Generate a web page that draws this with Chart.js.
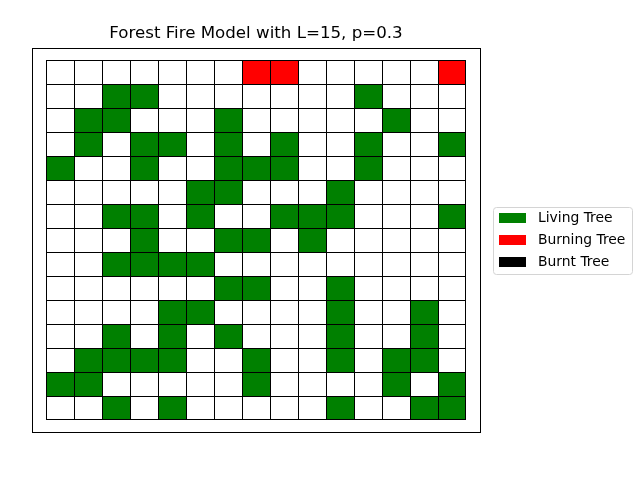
<!DOCTYPE html>
<html>
<head>
<meta charset="utf-8">
<script src="https://cdn.jsdelivr.net/npm/chart.js@4.4.0/dist/chart.umd.min.js"></script>
<style>
html, body { margin: 0; padding: 0; background: #ffffff; }
#wrap { width: 640px; height: 480px; }
</style>
</head>
<body>
<div id="wrap"><canvas id="c" width="640" height="480"></canvas></div>
<script>
// ---- data ----
const titleText = 'Forest Fire Model with L=15, p=0.3';
const columns = [0, 1, 2, 3, 4, 5, 6, 7, 8, 9, 10, 11, 12, 13, 14];
const rows = [0, 1, 2, 3, 4, 5, 6, 7, 8, 9, 10, 11, 12, 13, 14];
const legendLabels = ['Living Tree', 'Burning Tree', 'Burnt Tree'];
const legendStates = [1, 2, 3];
// 0 = empty, 1 = living tree, 2 = burning tree, 3 = burnt tree
const forestGrid = [
  [0,0,0,0,0,0,0,2,2,0,0,0,0,0,2],
  [0,0,1,1,0,0,0,0,0,0,0,1,0,0,0],
  [0,1,1,0,0,0,1,0,0,0,0,0,1,0,0],
  [0,1,0,1,1,0,1,0,1,0,0,1,0,0,1],
  [1,0,0,1,0,0,1,1,1,0,0,1,0,0,0],
  [0,0,0,0,0,1,1,0,0,0,1,0,0,0,0],
  [0,0,1,1,0,1,0,0,1,1,1,0,0,0,1],
  [0,0,0,1,0,0,1,1,0,1,0,0,0,0,0],
  [0,0,1,1,1,1,0,0,0,0,0,0,0,0,0],
  [0,0,0,0,0,0,1,1,0,0,1,0,0,0,0],
  [0,0,0,0,1,1,0,0,0,0,1,0,0,1,0],
  [0,0,1,0,1,0,1,0,0,0,1,0,0,1,0],
  [0,1,1,1,1,0,0,1,0,0,1,0,1,1,0],
  [1,1,0,0,0,0,0,1,0,0,0,0,1,0,1],
  [0,0,1,0,1,0,0,0,0,0,1,0,0,1,1]
];

// ---- styles ----
const stateColors = { 0: '#ffffff', 1: '#008000', 2: '#ff0000', 3: '#000000' };
Chart.defaults.font.family = "'DejaVu Sans', sans-serif";
Chart.defaults.color = '#000000';

const lastCol = columns.length - 1;
const lastRow = rows.length - 1;

const datasets = rows.map(r => ({
  label: 'row ' + r,
  data: columns.map(c => ({ x: c, y: [r - 0.5, r + 0.5] })),
  backgroundColor: columns.map(c => stateColors[forestGrid[r][c]]),
  borderColor: '#000000',
  borderWidth: (ctx) => ({
    left: 1,
    top: 1,
    right: ctx.dataIndex === lastCol ? 1 : 0,
    bottom: r === lastRow ? 1 : 0
  }),
  borderSkipped: false,
  inflateAmount: 0,
  grouped: false,
  barPercentage: 1,
  categoryPercentage: 1
}));

const framePlugin = {
  id: 'frames',
  afterDatasetsDraw(chart) {
    const { ctx, chartArea: a } = chart;
    ctx.save();
    ctx.strokeStyle = '#000000';
    ctx.lineWidth = 1;
    ctx.strokeRect(a.left + 0.5, a.top + 0.5, a.right - a.left, a.bottom - a.top);
    ctx.restore();
  },
  afterDraw(chart) {
    const lg = chart.legend;
    if (!lg || !lg.legendHitBoxes || !lg.legendHitBoxes.length) return;
    const hb = lg.legendHitBoxes;
    const x0 = lg.left + 1.5;
    const x1 = lg.left + 140.5;
    const y0 = hb[0].top - 0.5;
    const y1 = hb[hb.length - 1].top + 22.5;
    const { ctx } = chart;
    const rad = 3;
    ctx.save();
    ctx.strokeStyle = '#d4d4d4';
    ctx.lineWidth = 1;
    ctx.beginPath();
    ctx.moveTo(x0 + rad, y0);
    ctx.lineTo(x1 - rad, y0);
    ctx.arcTo(x1, y0, x1, y0 + rad, rad);
    ctx.lineTo(x1, y1 - rad);
    ctx.arcTo(x1, y1, x1 - rad, y1, rad);
    ctx.lineTo(x0 + rad, y1);
    ctx.arcTo(x0, y1, x0, y1 - rad, rad);
    ctx.lineTo(x0, y0 + rad);
    ctx.arcTo(x0, y0, x0 + rad, y0, rad);
    ctx.closePath();
    ctx.stroke();
    ctx.restore();
  }
};

new Chart(document.getElementById('c'), {
  type: 'bar',
  data: { datasets },
  plugins: [framePlugin],
  options: {
    responsive: false,
    animation: false,
    events: [],
    layout: { padding: { left: 32, right: 5, top: 0, bottom: 48 } },
    scales: {
      x: {
        type: 'linear',
        min: -1,
        max: 15,
        offset: false,
        display: false,
        ticks: { stepSize: 1 }
      },
      y: {
        type: 'linear',
        reverse: true,
        min: -1,
        max: 15,
        display: false,
        ticks: { stepSize: 1 }
      },
      ySpacer: {
        type: 'linear',
        position: 'right',
        display: true,
        grid: { display: false },
        ticks: { display: false },
        border: { display: false },
        afterFit(scale) { scale.width = 12; }
      }
    },
    plugins: {
      tooltip: { enabled: false },
      title: {
        display: true,
        fullSize: false,
        text: titleText,
        color: '#000000',
        font: { size: 16.67, weight: 'normal', lineHeight: '20px' },
        padding: { top: 24, bottom: 4 }
      },
      legend: {
        display: true,
        fullSize: false,
        position: 'right',
        align: 'center',
        maxWidth: 143,
        labels: {
          boxWidth: 37,
          boxHeight: 20,
          padding: 2,
          color: '#000000',
          font: { size: 13.9 },
          generateLabels: () => legendLabels.map((t, i) => ({
            text: t,
            fillStyle: stateColors[legendStates[i]],
            strokeStyle: '#ffffff',
            lineWidth: 10,
            hidden: false,
            fontColor: '#000000',
            datasetIndex: -1
          }))
        }
      }
    }
  }
});
</script>
</body>
</html>
